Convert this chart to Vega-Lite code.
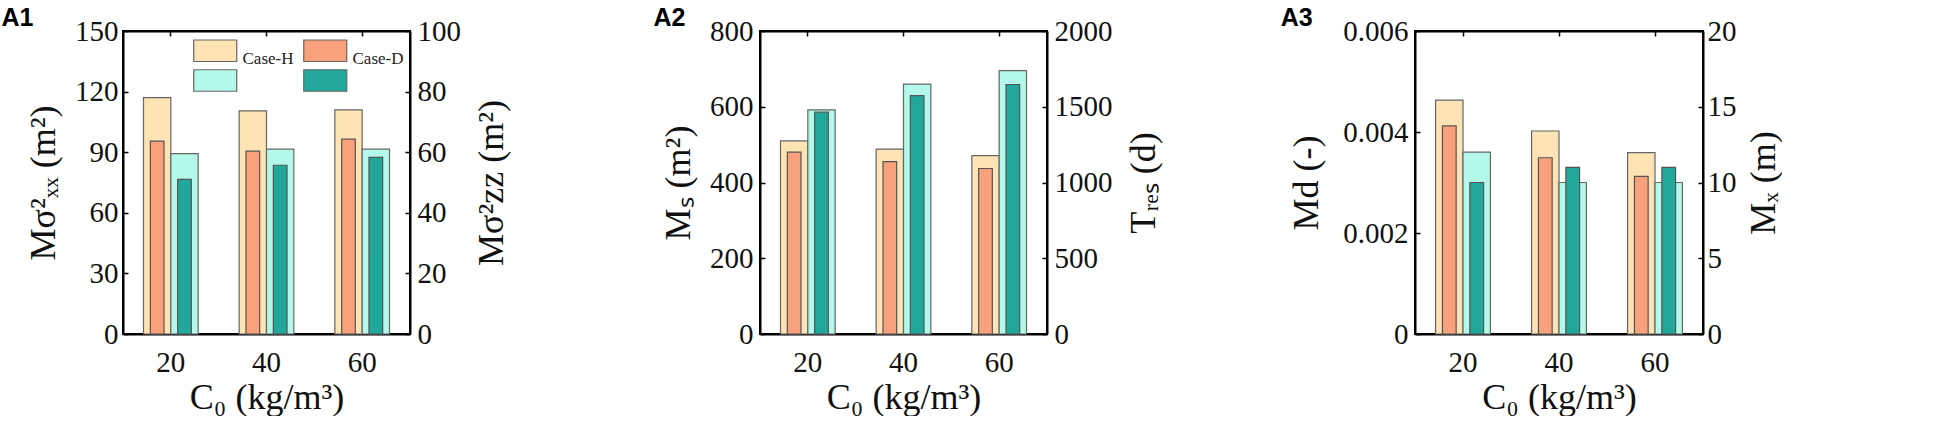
{
  "$schema": "https://vega.github.io/schema/vega-lite/v6.json",
  "padding": {"left": 0, "top": 5, "right": 0, "bottom": 0},
  "background": "white",
  "spacing": 141,
  "data": {"values": [
    {"panel":"A1","C0":20,"side":"L","kind":"H","series":"HL","value":117},
    {"panel":"A1","C0":40,"side":"L","kind":"H","series":"HL","value":110.5},
    {"panel":"A1","C0":60,"side":"L","kind":"H","series":"HL","value":111},
    {"panel":"A1","C0":20,"side":"L","kind":"D","series":"DL","value":95.5},
    {"panel":"A1","C0":40,"side":"L","kind":"D","series":"DL","value":90.5},
    {"panel":"A1","C0":60,"side":"L","kind":"D","series":"DL","value":96.5},
    {"panel":"A1","C0":20,"side":"R","kind":"H","series":"HR","value":59.5},
    {"panel":"A1","C0":40,"side":"R","kind":"H","series":"HR","value":61},
    {"panel":"A1","C0":60,"side":"R","kind":"H","series":"HR","value":61},
    {"panel":"A1","C0":20,"side":"R","kind":"D","series":"DR","value":51},
    {"panel":"A1","C0":40,"side":"R","kind":"D","series":"DR","value":55.7},
    {"panel":"A1","C0":60,"side":"R","kind":"D","series":"DR","value":58.3},
    {"panel":"A2","C0":20,"side":"L","kind":"H","series":"HL","value":510},
    {"panel":"A2","C0":40,"side":"L","kind":"H","series":"HL","value":488},
    {"panel":"A2","C0":60,"side":"L","kind":"H","series":"HL","value":471},
    {"panel":"A2","C0":20,"side":"L","kind":"D","series":"DL","value":480},
    {"panel":"A2","C0":40,"side":"L","kind":"D","series":"DL","value":455},
    {"panel":"A2","C0":60,"side":"L","kind":"D","series":"DL","value":437},
    {"panel":"A2","C0":20,"side":"R","kind":"H","series":"HR","value":1480},
    {"panel":"A2","C0":40,"side":"R","kind":"H","series":"HR","value":1650},
    {"panel":"A2","C0":60,"side":"R","kind":"H","series":"HR","value":1738},
    {"panel":"A2","C0":20,"side":"R","kind":"D","series":"DR","value":1464},
    {"panel":"A2","C0":40,"side":"R","kind":"D","series":"DR","value":1574},
    {"panel":"A2","C0":60,"side":"R","kind":"D","series":"DR","value":1647},
    {"panel":"A3","C0":20,"side":"L","kind":"H","series":"HL","value":0.00463},
    {"panel":"A3","C0":40,"side":"L","kind":"H","series":"HL","value":0.00402},
    {"panel":"A3","C0":60,"side":"L","kind":"H","series":"HL","value":0.00359},
    {"panel":"A3","C0":20,"side":"L","kind":"D","series":"DL","value":0.00412},
    {"panel":"A3","C0":40,"side":"L","kind":"D","series":"DL","value":0.00349},
    {"panel":"A3","C0":60,"side":"L","kind":"D","series":"DL","value":0.00312},
    {"panel":"A3","C0":20,"side":"R","kind":"H","series":"HR","value":12},
    {"panel":"A3","C0":40,"side":"R","kind":"H","series":"HR","value":10},
    {"panel":"A3","C0":60,"side":"R","kind":"H","series":"HR","value":10},
    {"panel":"A3","C0":20,"side":"R","kind":"D","series":"DR","value":10},
    {"panel":"A3","C0":40,"side":"R","kind":"D","series":"DR","value":11},
    {"panel":"A3","C0":60,"side":"R","kind":"D","series":"DR","value":11}
  ]},
  "config": {
    "font": "'Liberation Serif', serif",
    "view": {"stroke": "#000", "strokeWidth": 2},
    "axis": {
      "labelFont": "'Liberation Serif', serif", "labelFontSize": 29, "labelColor": "#111",
      "titleFont": "'Liberation Serif', serif", "titleFontSize": 36, "titleFontWeight": "normal", "titleColor": "#111",
      "domainColor": "#000", "domainWidth": 2, "tickColor": "#000", "tickWidth": 1.5, "tickSize": -5, "grid": false
    },
    "axisRight": {"titleAngle": 270, "titleBaseline": "top"},
    "title": {"font": "'Liberation Sans', sans-serif", "fontSize": 25, "fontWeight": "bold", "color": "#000", "anchor": "start", "frame": "bounds"}
  },
  "resolve": {"scale": {"color": "independent"}, "legend": {"color": "independent"}},
  "hconcat": [
    {
      "title": {"text": "A1", "dx": -24, "offset": -14},
      "width": 287, "height": 303,
      "transform": [{"filter": "datum.panel === 'A1'"}],
      "layer": [
        {
          "transform": [{"filter": "datum.side === 'L'"}],
          "encoding": {
            "x": {"field": "C0", "type": "ordinal", "scale": {"paddingInner": 0, "paddingOuter": 0}, "title": "C₀ (kg/m³)",
                  "axis": {"orient": "bottom", "labelAngle": 0, "labelPadding": 19, "titlePadding": 3}},
            "y": {"field": "value", "type": "quantitative", "scale": {"domain": [0, 150], "nice": false}, "title": "Mσ²ₓₓ (m²)",
                  "axis": {"orient": "left", "values": [0, 30, 60, 90, 120, 150], "labelPadding": 10, "titlePadding": 12}},
            "color": {"field": "series", "type": "nominal",
                      "scale": {"domain": ["HL", "HR", "DL", "DR"], "range": ["#FEE3B5", "#B3F8E8", "#F9A17C", "#22A89A"]},
                      "legend": {"orient": "none", "legendX": 80.75, "legendY": 8, "direction": "vertical", "title": null, "columns": 2, "padding": 0,
                                 "symbolType": "M-2,-1H2V1H-2Z", "symbolSize": 462, "symbolStrokeColor": "#666", "symbolStrokeWidth": 1.2, "symbolOpacity": 1,
                                 "labelExpr": "datum.value === 'HL' ? 'Case-H' : datum.value === 'DL' ? 'Case-D' : ''",
                                 "labelFont": "'Liberation Serif', serif", "labelFontSize": 17, "labelColor": "#222", "labelBaseline": "top", "labelOffset": 15.75,
                                 "columnPadding": 7, "rowPadding": 0}}
          },
          "layer": [
            {"transform": [{"filter": "datum.kind === 'H'"}], "mark": {"type": "bar", "stroke": "#666", "strokeWidth": 1.2},
             "encoding": {"xOffset": {"field": "side", "type": "nominal", "scale": {"domain": ["L", "R"], "paddingInner": 0, "paddingOuter": 0.75}}}},
            {"transform": [{"filter": "datum.kind === 'D'"}], "mark": {"type": "bar", "stroke": "#555", "strokeWidth": 1.2},
             "encoding": {"xOffset": {"field": "side", "type": "nominal", "scale": {"domain": ["L", "R"], "paddingInner": 0.5, "paddingOuter": 1}}}}
          ],
          "resolve": {"scale": {"xOffset": "independent"}}
        },
        {
          "transform": [{"filter": "datum.side === 'R'"}],
          "encoding": {
            "x": {"field": "C0", "type": "ordinal", "scale": {"paddingInner": 0, "paddingOuter": 0}, "title": null,
                  "axis": {"orient": "top", "labels": false}},
            "y": {"field": "value", "type": "quantitative", "scale": {"domain": [0, 100], "nice": false}, "title": "Mσ²zz (m²)",
                  "axis": {"orient": "right", "values": [0, 20, 40, 60, 80, 100], "labelPadding": 12, "titlePadding": 14}},
            "color": {"field": "series", "type": "nominal",
                      "scale": {"domain": ["HL", "HR", "DL", "DR"], "range": ["#FEE3B5", "#B3F8E8", "#F9A17C", "#22A89A"]},
                      "legend": {"orient": "none", "legendX": 80.75, "legendY": 8, "direction": "vertical", "title": null, "columns": 2, "padding": 0,
                                 "symbolType": "M-2,-1H2V1H-2Z", "symbolSize": 462, "symbolStrokeColor": "#666", "symbolStrokeWidth": 1.2, "symbolOpacity": 1,
                                 "labelExpr": "datum.value === 'HL' ? 'Case-H' : datum.value === 'DL' ? 'Case-D' : ''",
                                 "labelFont": "'Liberation Serif', serif", "labelFontSize": 17, "labelColor": "#222", "labelBaseline": "top", "labelOffset": 15.75,
                                 "columnPadding": 7, "rowPadding": 0}}
          },
          "layer": [
            {"transform": [{"filter": "datum.kind === 'H'"}], "mark": {"type": "bar", "stroke": "#666", "strokeWidth": 1.2},
             "encoding": {"xOffset": {"field": "side", "type": "nominal", "scale": {"domain": ["L", "R"], "paddingInner": 0, "paddingOuter": 0.75}}}},
            {"transform": [{"filter": "datum.kind === 'D'"}], "mark": {"type": "bar", "stroke": "#555", "strokeWidth": 1.2},
             "encoding": {"xOffset": {"field": "side", "type": "nominal", "scale": {"domain": ["L", "R"], "paddingInner": 0.5, "paddingOuter": 1}}}}
          ],
          "resolve": {"scale": {"xOffset": "independent"}}
        }
      ],
      "resolve": {"scale": {"y": "independent", "xOffset": "independent"}, "axis": {"x": "independent"}}
    },
    {
      "spacing": 117,
      "hconcat": [
        {
          "title": {"text": "A2", "dx": -7, "offset": -14},
          "width": 287, "height": 303,
          "transform": [{"filter": "datum.panel === 'A2'"}],
          "layer": [
            {
              "transform": [{"filter": "datum.side === 'L'"}],
              "encoding": {
                "x": {"field": "C0", "type": "ordinal", "scale": {"paddingInner": 0, "paddingOuter": 0}, "title": "C₀ (kg/m³)",
                      "axis": {"orient": "bottom", "labelAngle": 0, "labelPadding": 19, "titlePadding": 3}},
                "y": {"field": "value", "type": "quantitative", "scale": {"domain": [0, 800], "nice": false}, "title": "Mₛ (m²)",
                      "axis": {"orient": "left", "values": [0, 200, 400, 600, 800], "labelPadding": 12, "titlePadding": 12}},
                "color": {"field": "series", "type": "nominal",
                          "scale": {"domain": ["HL", "HR", "DL", "DR"], "range": ["#FEE3B5", "#B3F8E8", "#F9A17C", "#22A89A"]}, "legend": null}
              },
              "layer": [
                {"transform": [{"filter": "datum.kind === 'H'"}], "mark": {"type": "bar", "stroke": "#666", "strokeWidth": 1.2},
                 "encoding": {"xOffset": {"field": "side", "type": "nominal", "scale": {"domain": ["L", "R"], "paddingInner": 0, "paddingOuter": 0.75}}}},
                {"transform": [{"filter": "datum.kind === 'D'"}], "mark": {"type": "bar", "stroke": "#555", "strokeWidth": 1.2},
                 "encoding": {"xOffset": {"field": "side", "type": "nominal", "scale": {"domain": ["L", "R"], "paddingInner": 0.5, "paddingOuter": 1}}}}
              ],
              "resolve": {"scale": {"xOffset": "independent"}}
            },
            {
              "transform": [{"filter": "datum.side === 'R'"}],
              "encoding": {
                "x": {"field": "C0", "type": "ordinal", "scale": {"paddingInner": 0, "paddingOuter": 0}, "title": null,
                      "axis": {"orient": "top", "labels": false}},
                "y": {"field": "value", "type": "quantitative", "scale": {"domain": [0, 2000], "nice": false}, "title": "Tᵣₑₛ (d)",
                      "axis": {"orient": "right", "values": [0, 500, 1000, 1500, 2000], "format": "d", "labelPadding": 12, "titlePadding": 14}},
                "color": {"field": "series", "type": "nominal",
                          "scale": {"domain": ["HL", "HR", "DL", "DR"], "range": ["#FEE3B5", "#B3F8E8", "#F9A17C", "#22A89A"]}, "legend": null}
              },
              "layer": [
                {"transform": [{"filter": "datum.kind === 'H'"}], "mark": {"type": "bar", "stroke": "#666", "strokeWidth": 1.2},
                 "encoding": {"xOffset": {"field": "side", "type": "nominal", "scale": {"domain": ["L", "R"], "paddingInner": 0, "paddingOuter": 0.75}}}},
                {"transform": [{"filter": "datum.kind === 'D'"}], "mark": {"type": "bar", "stroke": "#555", "strokeWidth": 1.2},
                 "encoding": {"xOffset": {"field": "side", "type": "nominal", "scale": {"domain": ["L", "R"], "paddingInner": 0.5, "paddingOuter": 1}}}}
              ],
              "resolve": {"scale": {"xOffset": "independent"}}
            }
          ],
          "resolve": {"scale": {"y": "independent", "xOffset": "independent"}, "axis": {"x": "independent"}}
        },
        {
          "title": {"text": "A3", "dx": -8, "offset": -14},
          "width": 288, "height": 303,
          "transform": [{"filter": "datum.panel === 'A3'"}],
          "layer": [
            {
              "transform": [{"filter": "datum.side === 'L'"}],
              "encoding": {
                "x": {"field": "C0", "type": "ordinal", "scale": {"paddingInner": 0, "paddingOuter": 0}, "title": "C₀ (kg/m³)",
                      "axis": {"orient": "bottom", "labelAngle": 0, "labelPadding": 19, "titlePadding": 3}},
                "y": {"field": "value", "type": "quantitative", "scale": {"domain": [0, 0.006], "nice": false}, "title": "Md (-)",
                      "axis": {"orient": "left", "values": [0, 0.002, 0.004, 0.006], "format": ".3~f", "labelPadding": 12, "titlePadding": 17}},
                "color": {"field": "series", "type": "nominal",
                          "scale": {"domain": ["HL", "HR", "DL", "DR"], "range": ["#FEE3B5", "#B3F8E8", "#F9A17C", "#22A89A"]}, "legend": null}
              },
              "layer": [
                {"transform": [{"filter": "datum.kind === 'H'"}], "mark": {"type": "bar", "stroke": "#666", "strokeWidth": 1.2},
                 "encoding": {"xOffset": {"field": "side", "type": "nominal", "scale": {"domain": ["L", "R"], "paddingInner": 0, "paddingOuter": 0.75}}}},
                {"transform": [{"filter": "datum.kind === 'D'"}], "mark": {"type": "bar", "stroke": "#555", "strokeWidth": 1.2},
                 "encoding": {"xOffset": {"field": "side", "type": "nominal", "scale": {"domain": ["L", "R"], "paddingInner": 0.5, "paddingOuter": 1}}}}
              ],
              "resolve": {"scale": {"xOffset": "independent"}}
            },
            {
              "transform": [{"filter": "datum.side === 'R'"}],
              "encoding": {
                "x": {"field": "C0", "type": "ordinal", "scale": {"paddingInner": 0, "paddingOuter": 0}, "title": null,
                      "axis": {"orient": "top", "labels": false}},
                "y": {"field": "value", "type": "quantitative", "scale": {"domain": [0, 20], "nice": false}, "title": "Mₓ (m)",
                      "axis": {"orient": "right", "values": [0, 5, 10, 15, 20], "labelPadding": 9, "titlePadding": 10}},
                "color": {"field": "series", "type": "nominal",
                          "scale": {"domain": ["HL", "HR", "DL", "DR"], "range": ["#FEE3B5", "#B3F8E8", "#F9A17C", "#22A89A"]}, "legend": null}
              },
              "layer": [
                {"transform": [{"filter": "datum.kind === 'H'"}], "mark": {"type": "bar", "stroke": "#666", "strokeWidth": 1.2},
                 "encoding": {"xOffset": {"field": "side", "type": "nominal", "scale": {"domain": ["L", "R"], "paddingInner": 0, "paddingOuter": 0.75}}}},
                {"transform": [{"filter": "datum.kind === 'D'"}], "mark": {"type": "bar", "stroke": "#555", "strokeWidth": 1.2},
                 "encoding": {"xOffset": {"field": "side", "type": "nominal", "scale": {"domain": ["L", "R"], "paddingInner": 0.5, "paddingOuter": 1}}}}
              ],
              "resolve": {"scale": {"xOffset": "independent"}}
            }
          ],
          "resolve": {"scale": {"y": "independent", "xOffset": "independent"}, "axis": {"x": "independent"}}
        }
      ]
    }
  ]
}
